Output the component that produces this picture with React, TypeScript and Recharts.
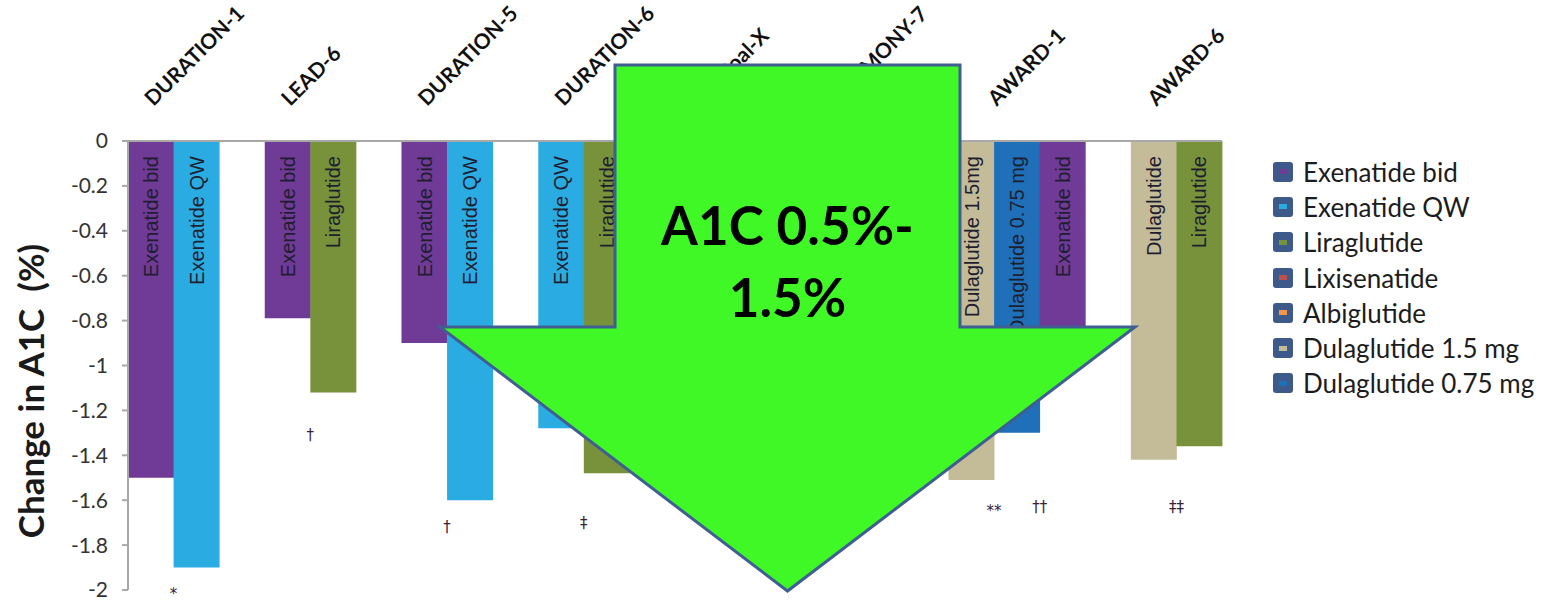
import React from "react";
import {
  BarChart,
  Bar,
  XAxis,
  YAxis,
  Cell,
  LabelList,
  Legend,
  ReferenceDot,
} from "recharts";

// trials, in the order they sit along the axis
const trials = [
  "DURATION-1",
  "LEAD-6",
  "DURATION-5",
  "DURATION-6",
  "GetGoal-X",
  "HARMONY-7",
  "AWARD-1",
  "AWARD-6",
];

// arms of each trial (legend names)
const trialArms = [
  ["Exenatide bid", "Exenatide QW"],
  ["Exenatide bid", "Liraglutide"],
  ["Exenatide bid", "Exenatide QW"],
  ["Exenatide QW", "Liraglutide"],
  ["Lixisenatide", "Exenatide bid"],
  ["Albiglutide", "Liraglutide"],
  ["Dulaglutide 1.5 mg", "Dulaglutide 0.75 mg", "Exenatide bid"],
  ["Dulaglutide 1.5 mg", "Liraglutide"],
];

// text written inside each bar
const armText = [
  ["Exenatide bid", "Exenatide QW"],
  ["Exenatide bid", "Liraglutide"],
  ["Exenatide bid", "Exenatide QW"],
  ["Exenatide QW", "Liraglutide"],
  ["Lixisenatide", "Exenatide bid"],
  ["Albiglutide", "Liraglutide"],
  ["Dulaglutide 1.5mg", "Dulaglutide 0.75 mg", "Exenatide bid"],
  ["Dulaglutide", "Liraglutide"],
];

// change in A1C (%)
const a1cChange = [
  [-1.5, -1.9],
  [-0.79, -1.12],
  [-0.9, -1.6],
  [-1.28, -1.48],
  [-0.79, -0.96],
  [-0.78, -0.99],
  [-1.51, -1.3, -0.98],
  [-1.42, -1.36],
];

const drugNames = [
  "Exenatide bid",
  "Exenatide QW",
  "Liraglutide",
  "Lixisenatide",
  "Albiglutide",
  "Dulaglutide 1.5 mg",
  "Dulaglutide 0.75 mg",
];
const drugColors = [
  "#703a97",
  "#2aace2",
  "#77923b",
  "#c0504d",
  "#f79646",
  "#c4bc98",
  "#1f6fb9",
];

const yTicks = [0, -0.2, -0.4, -0.6, -0.8, -1, -1.2, -1.4, -1.6, -1.8, -2];

// significance marks under the bars; `arm` is the bar they sit against
const footTrials = ["DURATION-1", "LEAD-6", "DURATION-5", "DURATION-6", "AWARD-1", "AWARD-1", "AWARD-6"];
const footArms = [1, 1, 1, 1, 1, 2, 1];
const footMarks = ["*", "†", "†", "‡", "**", "††", "‡‡"];
const footLevels = [-2.02, -1.31, -1.72, -1.7, -1.65, -1.63, -1.63];

const W = 1543;
const H = 605;
const TOP = 141;
const LEFT = 128;
const RIGHT = 321;
const BOTTOM = 15;

const colorOf = (drug: string) => drugColors[drugNames.indexOf(drug)];

// one row per bar slot, with an empty slot between trials
const rows: any[] = [];
trials.forEach((trial, ti) => {
  trialArms[ti].forEach((drug, ai) => {
    rows.push({
      slot: rows.length,
      trial,
      arm: ai,
      arms: trialArms[ti].length,
      drug,
      text: armText[ti][ai],
      change: a1cChange[ti][ai],
    });
  });
  if (ti < trials.length - 1) rows.push({ slot: rows.length, change: null });
});

const SLOT_W = (W - LEFT - RIGHT) / rows.length;

const TrialTick = ({ x, y, payload }: any) => {
  const row = rows[payload.value];
  if (!row || row.arm !== 0) return null;
  const cx = x + ((row.arms - 1) * SLOT_W) / 2 - 20;
  return (
    <text
      x={cx}
      y={y}
      transform={`rotate(-45, ${cx}, ${y})`}
      textAnchor="start"
      fontFamily="Lato"
      fontWeight={700}
      fontSize={21}
      fill="#111"
    >
      {row.trial}
    </text>
  );
};

const BarText = (props: any) => {
  const { x, width, value } = props;
  if (!value) return null;
  const cx = x + width / 2;
  const ty = TOP + 15;
  return (
    <text
      x={cx}
      y={ty}
      transform={`rotate(-90, ${cx}, ${ty})`}
      textAnchor="end"
      dominantBaseline="central"
      fontFamily="Liberation Sans"
      fontSize={20}
      fill="#1e1e30"
    >
      {value}
    </text>
  );
};

const LegendBox = () => (
  <div style={{ fontFamily: "Lato", fontSize: 26, color: "#1c1c1c" }}>
    {drugNames.map((name, i) => (
      <div
        key={name}
        style={{ display: "flex", alignItems: "center", height: 35.3 }}
      >
        <div
          style={{
            width: 20,
            height: 20,
            borderRadius: 3,
            background: "#3d5a8b",
            display: "flex",
            alignItems: "center",
            justifyContent: "center",
            marginRight: 10,
          }}
        >
          <div style={{ width: 8, height: 5, background: drugColors[i] }} />
        </div>
        <span>{name}</span>
      </div>
    ))}
  </div>
);

const AxisTitle = ({ viewBox }: any) => {
  const tx = viewBox.x + 30;
  const ty = 391;
  return (
    <text
      x={tx}
      y={ty}
      transform={`rotate(-90, ${tx}, ${ty})`}
      textAnchor="middle"
      dominantBaseline="central"
      fontFamily="Lato"
      fontWeight={700}
      fontSize={35}
      fill="#1a1a1a"
    >
      Change in A1C {"\u00a0"}(%)
    </text>
  );
};

// big callout arrow laid over the bars
const Callout = () => {
  const l = 615, r = 960, t = 65, neck = 327, hl = 440, hr = 1135, tip = 591;
  const mid = (l + r) / 2;
  const pts = `${l},${t} ${r},${t} ${r},${neck} ${hr},${neck} ${mid},${tip} ${hl},${neck} ${l},${neck}`;
  return (
    <svg
      width={W}
      height={H}
      style={{ position: "absolute", left: 0, top: 0, pointerEvents: "none" }}
    >
      <polygon points={pts} fill="#40f826" stroke="#3f5e92" strokeWidth={3} />
      <text
        x={mid}
        y={245}
        textAnchor="middle"
        fontFamily="Lato"
        fontWeight={700}
        fontSize={53}
        fill="#000"
      >
        A1C 0.5%-
      </text>
      <text
        x={mid}
        y={317}
        textAnchor="middle"
        fontFamily="Lato"
        fontWeight={700}
        fontSize={53}
        fill="#000"
      >
        1.5%
      </text>
    </svg>
  );
};

export default function App() {
  return (
    <div
      style={{
        position: "absolute",
        left: 0,
        top: 0,
        width: W,
        height: H,
        background: "#fff",
      }}
    >
      <BarChart
        width={W}
        height={H}
        data={rows}
        margin={{ top: 0, right: RIGHT, bottom: BOTTOM, left: 0 }}
        barCategoryGap={0}
        barGap={0}
      >
        <XAxis
          xAxisId="top"
          orientation="top"
          dataKey="slot"
          height={TOP}
          interval={0}
          tickSize={0}
          tickMargin={34}
          tickLine={false}
          axisLine={{ stroke: "#a8a8a8", strokeWidth: 2 }}
          tick={<TrialTick />}
        />
        <YAxis
          type="number"
          domain={[-2, 0]}
          ticks={yTicks}
          width={LEFT}
          tickSize={6}
          tickMargin={14}
          axisLine={{ stroke: "#a8a8a8", strokeWidth: 2 }}
          tickLine={{ stroke: "#a8a8a8", strokeWidth: 2 }}
          tick={{ fontFamily: "Lato", fontSize: 21, fill: "#333" }}
          label={<AxisTitle />}
        />
        <Bar xAxisId="top" dataKey="change" isAnimationActive={false}>
          {rows.map((row) => (
            <Cell key={row.slot} fill={row.drug ? colorOf(row.drug) : "none"} />
          ))}
          <LabelList dataKey="text" content={<BarText />} />
        </Bar>
        {footMarks.map((mark, i) => {
          const row = rows.find(
            (r) => r.trial === footTrials[i] && r.arm === footArms[i]
          );
          return (
            <ReferenceDot
              key={i}
              xAxisId="top"
              x={row.slot}
              y={footLevels[i]}
              r={0}
              ifOverflow="visible"
              shape={(p: any) => (
                <text
                  x={p.cx - SLOT_W / 2}
                  y={p.cy}
                  textAnchor="middle"
                  dominantBaseline="central"
                  fontFamily="DejaVu Sans"
                  fontSize={15}
                  fill="#3a2035"
                >
                  {mark}
                </text>
              )}
            />
          );
        })}
        <Legend
          layout="vertical"
          align="center"
          verticalAlign="middle"
          content={<LegendBox />}
          wrapperStyle={{ left: 1273, top: 154, width: 270 }}
        />
      </BarChart>
      <Callout />
    </div>
  );
}
